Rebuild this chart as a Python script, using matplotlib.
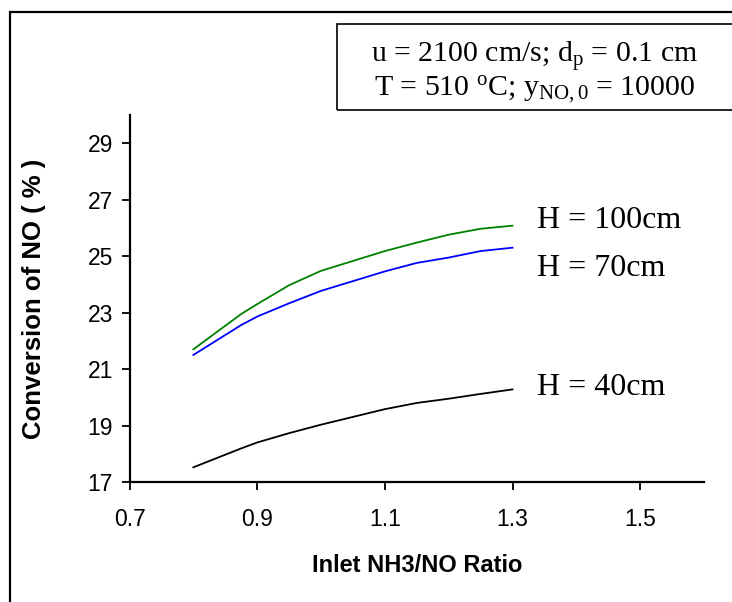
import matplotlib
matplotlib.use("Agg")
import matplotlib.pyplot as plt
from matplotlib.patches import Rectangle

plt.rcParams['font.family'] = ['Liberation Sans', 'DejaVu Sans']
plt.rcParams['mathtext.fontset'] = 'custom'
plt.rcParams['mathtext.rm'] = 'Liberation Serif'
plt.rcParams['mathtext.it'] = 'Liberation Serif:italic'
plt.rcParams['mathtext.bf'] = 'Liberation Serif:bold'

ratio = [0.8, 0.875, 0.9, 0.95, 1.0, 1.1, 1.15, 1.2, 1.25, 1.3]
h100 = [21.70, 22.95, 23.30, 23.97, 24.48, 25.18, 25.48, 25.76, 25.97, 26.08]
h70 = [21.50, 22.56, 22.86, 23.33, 23.77, 24.46, 24.76, 24.95, 25.18, 25.30]
h40 = [17.52, 18.19, 18.40, 18.73, 19.03, 19.58, 19.80, 19.95, 20.12, 20.28]
series_labels = ["H = 100cm", "H = 70cm", "H = 40cm"]
colors = ["#008000", "#0000ff", "#000000"]
xticks = [0.7, 0.9, 1.1, 1.3, 1.5]
yticks = [17, 19, 21, 23, 25, 27, 29]

W, H = 732, 602
fig = plt.figure(figsize=(W / 100, H / 100), dpi=100)
ax = fig.add_axes([129.5 / W, 1 - 482 / H, (704 - 129.5) / W, (482 - 115) / H])

for y, c in zip([h100, h70, h40], colors):
    ax.plot(ratio, y, color=c, lw=1.3)

ax.set_xlim(0.7, 1.6)
ax.set_ylim(17, 30)
ax.set_xticks(xticks)
ax.set_xticklabels([f"{v:.1f}" for v in xticks])
ax.set_yticks(yticks)
ax.set_yticklabels([str(v) for v in yticks])
ax.tick_params(axis='both', direction='out', length=6, width=1.3, labelsize=16.5)
ax.tick_params(axis='x', pad=13)
ax.tick_params(axis='y', pad=6)
for s in ['top', 'right']:
    ax.spines[s].set_visible(False)
for s in ['left', 'bottom']:
    ax.spines[s].set_linewidth(1.6)

ax.set_xlabel("Inlet NH3/NO Ratio", fontsize=17, fontweight='bold', labelpad=16)
ax.set_ylabel("Conversion of NO ( % )", fontsize=18.5, fontweight='bold', labelpad=30)

label_y = [26.28, 24.58, 20.33]
for lab, ly in zip(series_labels, label_y):
    ax.text(1.339, ly, lab, fontsize=23, family='Liberation Serif', va='center', ha='left')

# outer frame (left and top visible)
fig.add_artist(Rectangle((10 / W, -0.1), 1.2, 1 - 12 / H + 0.1, transform=fig.transFigure,
                         fill=False, lw=1.6, edgecolor='black'))
# annotation box
fig.add_artist(Rectangle((337 / W, 1 - 110 / H), 1.0, (110 - 24) / H, transform=fig.transFigure,
                         fill=False, lw=1.2, edgecolor='black'))
fig.text(535 / W, 1 - 62 / H, r"u = 2100 cm/s; d$_\mathregular{p}$ = 0.1 cm",
         ha='center', va='baseline', fontsize=21.5, family='Liberation Serif')
fig.text(535 / W, 1 - 96 / H, r"T = 510 $^\mathregular{o}$C; y$_\mathregular{NO,0}$ = 10000",
         ha='center', va='baseline', fontsize=21.5, family='Liberation Serif')

fig.savefig("out.png", dpi=100)
